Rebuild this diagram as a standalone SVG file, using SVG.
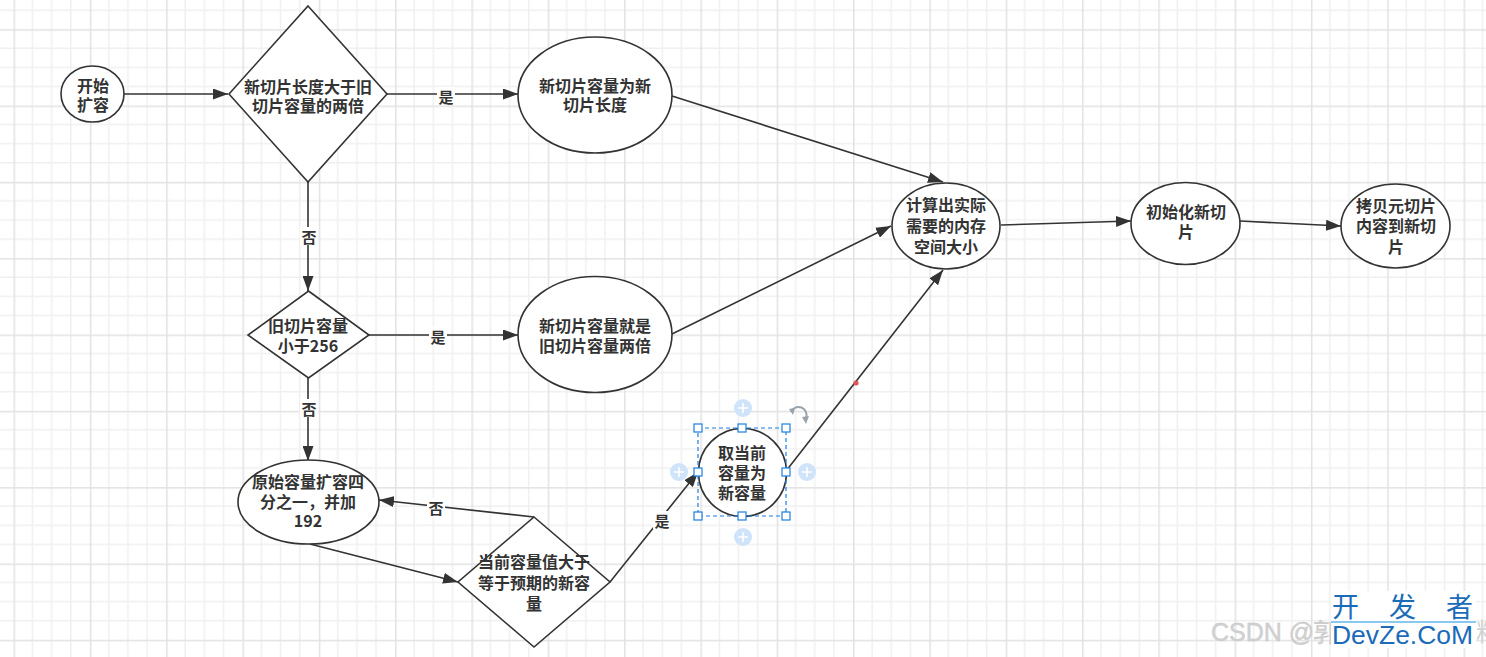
<svg xmlns="http://www.w3.org/2000/svg" width="1486" height="657" viewBox="0 0 1486 657">
<defs>
<pattern id="grid" patternUnits="userSpaceOnUse" x="13.5" y="29.2" width="76.32" height="76.32">
<path d="M19.08 0V76.32M38.16 0V76.32M57.24 0V76.32M0 19.08H76.32M0 38.16H76.32M0 57.24H76.32" stroke="#f0f0f0" stroke-width="1.5" fill="none"/>
<path d="M0.75 0V76.32M0 0.75H76.32" stroke="#e2e2e2" stroke-width="1.5" fill="none"/>
</pattern>
<marker id="arr" viewBox="0 0 15 11" refX="15" refY="5.5" markerWidth="15" markerHeight="11" markerUnits="userSpaceOnUse" orient="auto">
<path d="M0 0L15 5.5L0 11z" fill="#333"/>
</marker>
</defs>
<style>
.shape{fill:#fff;stroke:#333;stroke-width:1.6}
.t{font-family:"Noto Sans CJK SC","Microsoft YaHei",sans-serif;font-size:16px;font-weight:bold;fill:#333;text-anchor:middle;dominant-baseline:central}
.lbl{font-family:"Noto Sans CJK SC",sans-serif;font-size:15px;font-weight:bold;fill:#333;text-anchor:middle;dominant-baseline:central}
.edge{fill:none;stroke:#333;stroke-width:1.6;marker-end:url(#arr)}
.lbg{fill:#fff}
.h{fill:#fff;stroke:#1e7fe0;stroke-width:1.2}
.plus{fill:#cfe3fb}
</style>
<rect width="1486" height="657" fill="#fff"/>
<rect width="1486" height="657" fill="url(#grid)"/>

<g id="connectors">
<path class="edge" d="M124 94L228 94"/>
<path class="edge" d="M387 94L518 94"/>
<path class="edge" d="M308 182L308 291"/>
<path class="edge" d="M369 335L518 335"/>
<path class="edge" d="M308 378L308 461"/>
<path class="edge" d="M310 544L458 582"/>
<path class="edge" d="M534 517L379 500"/>
<path class="edge" d="M610 582L698 472"/>
<path class="edge" d="M786 471L943 270"/>
<path class="edge" d="M672 96L943 182"/>
<path class="edge" d="M672 334L891 226"/>
<path class="edge" d="M1001 225L1131 221"/>
<path class="edge" d="M1240 221L1341 226"/>
<rect class="lbg" x="437" y="87" width="18" height="18"/>
<text class="lbl" x="446" y="96">是</text>
<rect class="lbg" x="300" y="227" width="18" height="18"/>
<text class="lbl" x="309" y="236">否</text>
<rect class="lbg" x="429" y="327" width="18" height="18"/>
<text class="lbl" x="438" y="336">是</text>
<rect class="lbg" x="300" y="399" width="18" height="18"/>
<text class="lbl" x="309" y="408">否</text>
<rect class="lbg" x="427" y="498" width="18" height="18"/>
<text class="lbl" x="436" y="507">否</text>
<rect class="lbg" x="653" y="511" width="18" height="18"/>
<text class="lbl" x="662" y="520">是</text>
<circle cx="856" cy="383" r="2.6" fill="#e05555"/>
</g>

<g id="start">
<ellipse class="shape" cx="92.5" cy="94" rx="31.5" ry="28"/>
<text class="t"><tspan x="93" y="85">开始</tspan><tspan x="93" y="104">扩容</tspan></text>
</g>

<g id="cond1">
<polygon class="shape" points="308,6 387,94 308,182 229,94"/>
<text class="t"><tspan x="308" y="86">新切片长度大于旧</tspan><tspan x="308" y="105">切片容量的两倍</tspan></text>
</g>

<g id="newlen">
<ellipse class="shape" cx="595" cy="95" rx="77" ry="58"/>
<text class="t"><tspan x="595" y="85">新切片容量为新</tspan><tspan x="595" y="104">切片长度</tspan></text>
</g>

<g id="cond2">
<polygon class="shape" points="308.5,291 369,335 308.5,378 248,335"/>
<text class="t"><tspan x="308" y="325">旧切片容量</tspan><tspan x="308" y="345">小于256</tspan></text>
</g>

<g id="double">
<ellipse class="shape" cx="595" cy="334.5" rx="77" ry="58"/>
<text class="t"><tspan x="595" y="325">新切片容量就是</tspan><tspan x="595" y="345">旧切片容量两倍</tspan></text>
</g>

<g id="quarter">
<ellipse class="shape" cx="308.5" cy="502" rx="70.5" ry="42"/>
<text class="t"><tspan x="308" y="481">原始容量扩容四</tspan><tspan x="308" y="501">分之一，并加</tspan><tspan x="308" y="520">192</tspan></text>
</g>

<g id="cond3">
<polygon class="shape" points="534,517 610,582 534,647 458,582"/>
<text class="t"><tspan x="534" y="561">当前容量值大于</tspan><tspan x="534" y="582">等于预期的新容</tspan><tspan x="534" y="603">量</tspan></text>
</g>

<g id="takecur">
<ellipse class="shape" cx="742.5" cy="472.5" rx="44" ry="44"/>
<text class="t"><tspan x="742" y="452">取当前</tspan><tspan x="742" y="472">容量为</tspan><tspan x="742" y="492">新容量</tspan></text>
</g>

<g id="selection">
<rect x="698" y="428" width="88" height="88" fill="none" stroke="#1e7fe0" stroke-width="1.2" stroke-dasharray="4 3"/>
<rect class="h" x="694" y="424" width="8" height="8"/>
<rect class="h" x="738" y="424" width="8" height="8"/>
<rect class="h" x="782" y="424" width="8" height="8"/>
<rect class="h" x="694" y="468" width="8" height="8"/>
<rect class="h" x="782" y="468" width="8" height="8"/>
<rect class="h" x="694" y="512" width="8" height="8"/>
<rect class="h" x="738" y="512" width="8" height="8"/>
<rect class="h" x="782" y="512" width="8" height="8"/>
<g stroke="#fff" stroke-width="1.6">
<circle class="plus" cx="743" cy="408" r="9" stroke="none"/>
<path d="M738 408H748M743 403V413"/>
<circle class="plus" cx="679" cy="472" r="9" stroke="none"/>
<path d="M674 472H684M679 467V477"/>
<circle class="plus" cx="807" cy="472" r="9" stroke="none"/>
<path d="M802 472H812M807 467V477"/>
<circle class="plus" cx="743" cy="537" r="9" stroke="none"/>
<path d="M738 537H748M743 532V542"/>
</g>
<path d="M791 412A8 8 0 0 1 806 418" fill="none" stroke="#9aa3ad" stroke-width="2"/>
<path d="M802 417L806 424L809 416z" fill="#9aa3ad"/>
<path d="M789 409L793 415L795 408z" fill="#9aa3ad"/>
</g>

<g id="calc">
<ellipse class="shape" cx="946" cy="226" rx="54" ry="43"/>
<text class="t"><tspan x="946" y="204">计算出实际</tspan><tspan x="946" y="225">需要的内存</tspan><tspan x="946" y="246">空间大小</tspan></text>
</g>

<g id="init">
<ellipse class="shape" cx="1185.5" cy="223.5" rx="54.5" ry="41"/>
<text class="t"><tspan x="1186" y="211">初始化新切</tspan><tspan x="1186" y="231">片</tspan></text>
</g>

<g id="copy">
<ellipse class="shape" cx="1395.5" cy="226" rx="54.5" ry="42"/>
<text class="t"><tspan x="1396" y="205">拷贝元切片</tspan><tspan x="1396" y="225">内容到新切</tspan><tspan x="1396" y="246">片</tspan></text>
</g>

<g id="watermark">
<text x="1211" y="641" font-family="Liberation Sans, sans-serif" font-size="25" fill="#d2d2d2" stroke="#c4c4c4" stroke-width="0.4">CSDN @郭</text>
<text x="1476" y="641" font-family="Noto Sans CJK SC, sans-serif" font-size="25" fill="#d2d2d2">料</text>
<rect x="1331" y="591" width="145" height="57" fill="#fff"/>
<text x="1332" y="617" font-family="Noto Sans CJK SC, sans-serif" font-size="27" fill="#1a6bb8" textLength="141" lengthAdjust="spacing">开发者</text>
<path d="M1331 622H1476" stroke="#62b6ea" stroke-width="1.5"/>
<text x="1332" y="644" font-family="Liberation Sans, sans-serif" font-size="26.5" fill="#1a6bb8" textLength="141" lengthAdjust="spacingAndGlyphs">DevZe.CoM</text>
</g>
</svg>
